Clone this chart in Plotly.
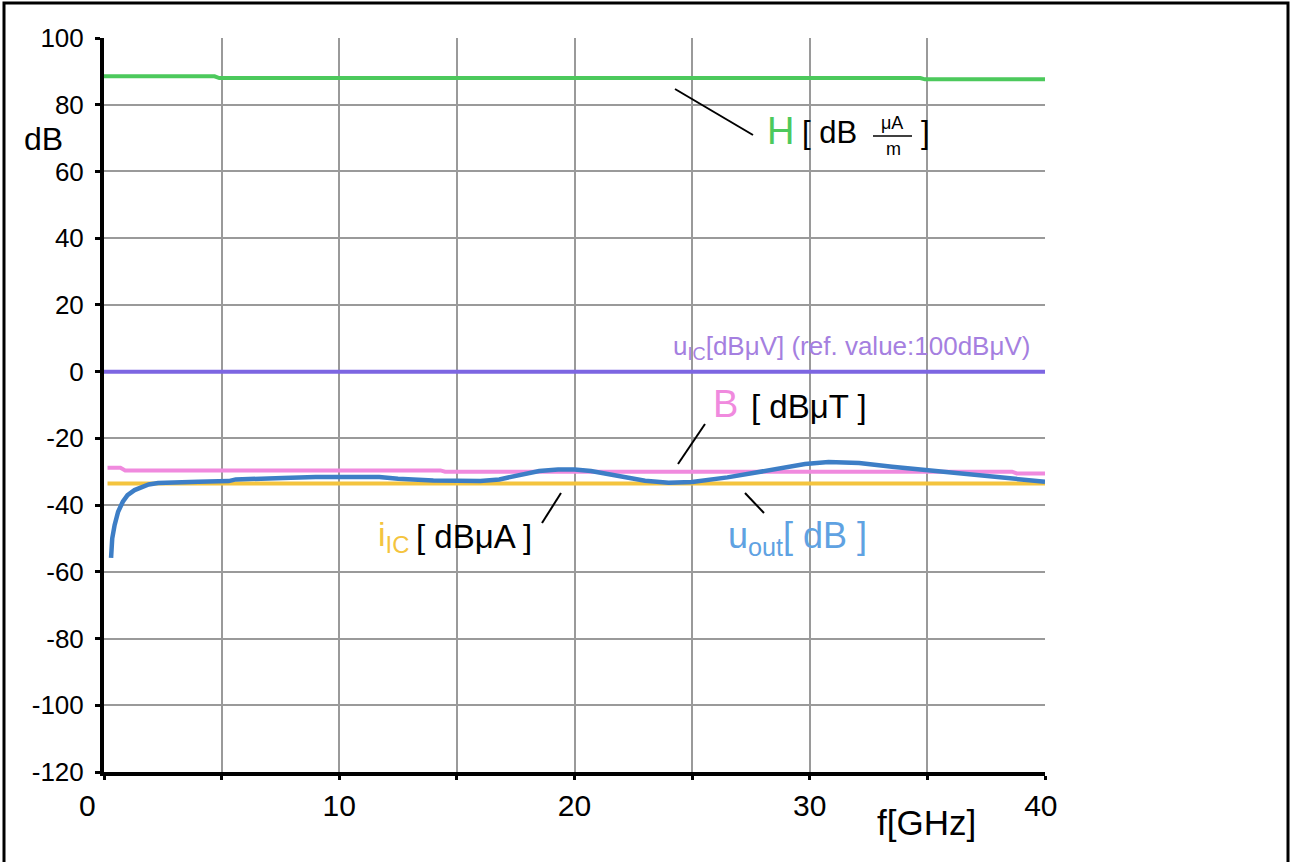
import plotly.graph_objects as go

# ---------------- data ----------------
h_x = [0.0, 4.7, 4.9, 34.7, 34.9, 40.0]
h_y = [88.5, 88.5, 88.0, 88.0, 87.6, 87.6]

uic_x = [0.0, 40.0]
uic_y = [0.0, 0.0]

b_x = [0.15, 0.7, 0.9, 14.3, 14.5, 38.6, 38.8, 40.0]
b_y = [-28.8, -28.8, -29.6, -29.6, -30.0, -30.0, -30.5, -30.5]

iic_x = [0.15, 40.0]
iic_y = [-33.5, -33.5]

uout_x = [0.3, 0.35, 0.45, 0.6, 0.8, 1.0, 1.3, 1.6, 1.9, 2.3, 3.1, 4.0, 5.3, 5.6, 7.6,
          9.0, 11.7, 12.5, 14.0, 16.0, 16.8, 17.6, 18.5, 19.3, 20.0, 20.7, 22.0, 23.0,
          24.0, 25.0, 26.5, 28.6, 29.8, 30.8, 32.1, 33.5, 35.0, 36.5, 37.8, 39.0, 40.0]
uout_y = [-55.8, -50.0, -46.0, -42.0, -39.0, -37.0, -35.5, -34.5, -33.8, -33.4, -33.1,
          -33.0, -32.8, -32.3, -31.9, -31.6, -31.6, -32.1, -32.6, -32.8, -32.3, -31.0,
          -29.8, -29.3, -29.3, -29.8, -31.5, -32.7, -33.3, -33.1, -31.7, -29.0, -27.7,
          -27.1, -27.4, -28.5, -29.5, -30.7, -31.6, -32.3, -33.0]

x_tickvals = [0, 10, 20, 30, 40]
x_ticktext = ["0" + "\u00a0" * 4, "10", "20", "30", "40\u00a0"]
y_tickvals = [100, 80, 60, 40, 20, 0, -20, -40, -60, -80, -100, -120]
y_ticktext = ["100", "80", "60", "40", "20", "0", "-20", "-40", "-60", "-80", "-100", "-120"]

# ---------------- geometry helpers (pixel -> paper) ----------------
W, H = 1295, 862
L, R, T, B = 104, 1045, 38, 772


def px(x):
    return (x - L) / (R - L)


def py(y):
    return (B - y) / (B - T)


FONT = "Liberation Sans"
GREEN = "#4cc95c"
PURPLE_LINE = "#7d66e2"
PURPLE_TXT = "#a57fe0"
PINK = "#f08ade"
YELLOW = "#f4c43e"
BLUE = "#3d7ec6"
BLUE_TXT = "#5fa2e2"
GRID = "#9a9a9a"

fig = go.Figure()
fig.add_trace(go.Scatter(x=h_x, y=h_y, mode="lines", line=dict(color=GREEN, width=4)))
fig.add_trace(go.Scatter(x=uic_x, y=uic_y, mode="lines", line=dict(color=PURPLE_LINE, width=4)))
fig.add_trace(go.Scatter(x=iic_x, y=iic_y, mode="lines", line=dict(color=YELLOW, width=4)))
fig.add_trace(go.Scatter(x=b_x, y=b_y, mode="lines", line=dict(color=PINK, width=4)))
fig.add_trace(go.Scatter(x=uout_x, y=uout_y, mode="lines", line=dict(color=BLUE, width=4.5)))

ann = []


def add_text(x, y, text, size, color="black", xanchor="left", yanchor="middle"):
    ann.append(dict(x=px(x), y=py(y), xref="paper", yref="paper", text=text,
                    showarrow=False, xanchor=xanchor, yanchor=yanchor, borderpad=0,
                    font=dict(family=FONT, size=size, color=color)))


# axis titles
add_text(44, 139, "dB", 32, xanchor="center")
add_text(926, 822, "f[GHz]", 35, xanchor="center")

# H label
add_text(766, 131, "H", 38, GREEN)
add_text(801, 133, "[ dB", 31)
add_text(892, 123, "μA", 18, xanchor="center")
add_text(893, 149, "m", 18, xanchor="center")
add_text(920, 133, "]", 31)

# u_IC label
add_text(1031, 347, "u<sub>IC</sub>[dBμV] (ref. value:100dBμV)", 26, PURPLE_TXT, xanchor="right")

# B label
add_text(712, 404, "B", 38, PINK)
add_text(750, 406, "[ dBμT ]", 33)

# i_IC label
add_text(377, 536, "i<sub>IC</sub>", 34, YELLOW)
add_text(415, 536, "[ dBμA ]", 33)

# u_out label
add_text(727, 538, "u<sub>out</sub>[ dB ]", 36, BLUE_TXT)

shapes = [
    # outer frame
    dict(type="rect", xref="paper", yref="paper", x0=px(4), x1=px(1288), y0=py(875), y1=py(3),
         line=dict(color="black", width=3), layer="below"),
    # fraction bar
    dict(type="line", xref="paper", yref="paper", x0=px(873), x1=px(912), y0=py(136), y1=py(136),
         line=dict(color="black", width=1.5)),
    # leader lines
    dict(type="line", xref="paper", yref="paper", x0=px(675), y0=py(89), x1=px(753), y1=py(135),
         line=dict(color="black", width=2)),
    dict(type="line", xref="paper", yref="paper", x0=px(678), y0=py(464), x1=px(705), y1=py(424),
         line=dict(color="black", width=2)),
    dict(type="line", xref="paper", yref="paper", x0=px(542), y0=py(523), x1=px(561), y1=py(493),
         line=dict(color="black", width=2)),
    dict(type="line", xref="paper", yref="paper", x0=px(745), y0=py(493), x1=px(764), y1=py(513),
         line=dict(color="black", width=2)),
]

fig.update_layout(
    width=W, height=H,
    margin=dict(l=L, r=W - R, t=T, b=H - B),
    paper_bgcolor="white", plot_bgcolor="white",
    showlegend=False,
    font=dict(family=FONT, size=26, color="black"),
    annotations=ann, shapes=shapes,
    xaxis=dict(range=[0, 40], tickvals=x_tickvals, ticktext=x_ticktext,
               showgrid=True, gridcolor=GRID, gridwidth=2,
               minor=dict(tick0=0, dtick=5, showgrid=True, gridcolor=GRID, gridwidth=2,
                          ticks="outside", ticklen=4, tickwidth=3, tickcolor="black"),
               showline=True, linecolor="black", linewidth=4,
               ticks="outside", ticklen=4, tickwidth=3, tickcolor="black",
               zeroline=False, tickfont=dict(family=FONT, size=30)),
    yaxis=dict(range=[-120, 100], tickvals=y_tickvals, ticktext=y_ticktext,
               showgrid=True, gridcolor=GRID, gridwidth=2,
               showline=True, linecolor="black", linewidth=4,
               ticks="outside", ticklen=5, tickwidth=3, tickcolor="black",
               ticklabelstandoff=6,
               zeroline=False, tickfont=dict(family=FONT, size=26)),
)

fig.write_html("out.html")
